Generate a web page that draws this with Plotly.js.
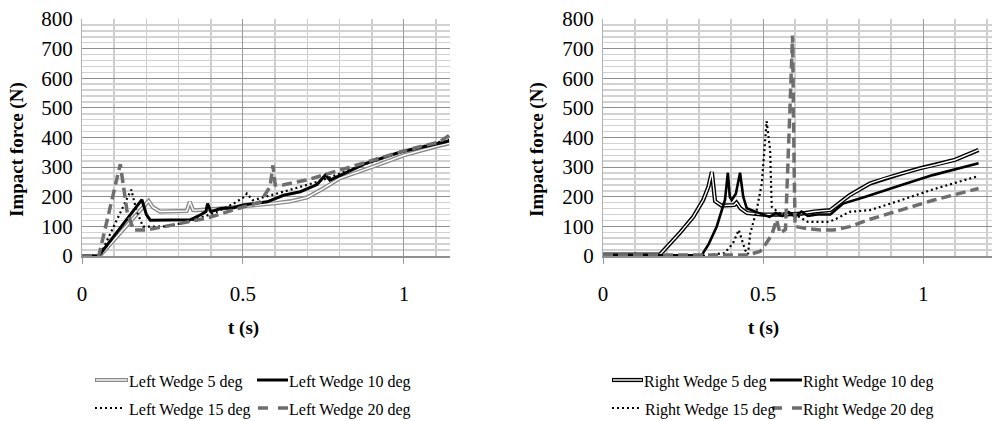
<!DOCTYPE html>
<html>
<head>
<meta charset="utf-8">
<script src="https://cdn.plot.ly/plotly-3.0.1.min.js"></script>
<style>html,body{margin:0;padding:0;background:#fff;}#chart{width:992px;height:421px;}</style>
</head>
<body>
<div id="chart"></div>
<script>
// ---------- DATA ----------
// Left wedge
const leftT5  = [0, 0.055, 0.207, 0.22, 0.242, 0.30, 0.325, 0.335, 0.345, 0.36, 0.40, 0.45, 0.50, 0.55, 0.60, 0.65, 0.70, 0.75, 0.80, 0.90, 1.00, 1.10, 1.14];
const leftF5  = [0, 0, 186, 165, 150, 150, 152, 182, 155, 155, 157, 162, 168, 172, 178, 185, 198, 228, 262, 300, 340, 370, 380];
const leftT10 = [0, 0.052, 0.186, 0.20, 0.212, 0.30, 0.336, 0.37, 0.385, 0.39, 0.40, 0.43, 0.47, 0.50, 0.575, 0.626, 0.678, 0.73, 0.756, 0.77, 0.88, 0.989, 1.14];
const leftF10 = [0, 0, 190, 140, 121, 120, 122, 140, 150, 177, 150, 160, 163, 172, 183, 205, 217, 241, 273, 256, 312, 351, 388];
const leftT15 = [0, 0.055, 0.153, 0.17, 0.19, 0.264, 0.326, 0.409, 0.471, 0.505, 0.512, 0.53, 0.626, 0.73, 0.885, 0.99, 1.14];
const leftF15 = [0, 0, 224, 150, 99, 100, 115, 144, 177, 200, 211, 188, 217, 250, 312, 351, 393];
const leftT20 = [0, 0.052, 0.119, 0.14, 0.16, 0.20, 0.283, 0.388, 0.49, 0.553, 0.584, 0.593, 0.60, 0.624, 0.70, 0.75, 0.80, 0.905, 1.01, 1.11, 1.14];
const leftF20 = [0, 0, 310, 150, 88, 88, 105, 128, 162, 182, 233, 306, 240, 240, 257, 273, 290, 324, 358, 385, 407];
// Right wedge
const rightT5  = [0, 0.178, 0.24, 0.282, 0.313, 0.329, 0.34, 0.35, 0.37, 0.41, 0.417, 0.43, 0.45, 0.50, 0.56, 0.62, 0.66, 0.71, 0.74, 0.77, 0.834, 0.88, 0.938, 0.99, 1.04, 1.10, 1.173];
const rightF5  = [5, 5, 78, 132, 189, 233, 284, 185, 170, 172, 180, 160, 145, 140, 140, 143, 150, 155, 180, 205, 245, 262, 280, 296, 308, 325, 358];
const rightT10 = [0, 0.308, 0.33, 0.355, 0.381, 0.39, 0.396, 0.402, 0.415, 0.428, 0.438, 0.449, 0.49, 0.52, 0.54, 0.56, 0.58, 0.60, 0.62, 0.64, 0.67, 0.71, 0.75, 0.82, 0.93, 1.03, 1.173];
const rightF10 = [2, 2, 40, 99, 189, 281, 200, 189, 210, 281, 200, 161, 144, 132, 145, 135, 148, 133, 150, 135, 140, 140, 177, 200, 239, 273, 313];
const rightT15 = [0, 0.31, 0.38, 0.406, 0.424, 0.444, 0.453, 0.46, 0.48, 0.496, 0.511, 0.522, 0.527, 0.55, 0.60, 0.64, 0.70, 0.72, 0.77, 0.834, 0.927, 1.031, 1.173];
const rightF15 = [0, 0, 10, 43, 88, 20, 6, 77, 155, 245, 455, 358, 166, 145, 140, 115, 115, 121, 149, 155, 187, 225, 270];
const rightT20 = [0, 0.45, 0.49, 0.50, 0.527, 0.542, 0.553, 0.57, 0.584, 0.592, 0.597, 0.60, 0.635, 0.68, 0.72, 0.77, 0.834, 0.927, 1.031, 1.173];
const rightF20 = [3, 3, 15, 27, 71, 122, 77, 90, 500, 744, 300, 100, 93, 88, 88, 99, 124, 155, 188, 228];

const leftNames  = ['Left Wedge 5 deg', 'Left Wedge 10 deg', 'Left Wedge 15 deg', 'Left Wedge 20 deg'];
const rightNames = ['Right Wedge 5 deg', 'Right Wedge 10 deg', 'Right Wedge 15 deg', 'Right Wedge 20 deg'];
const xTitle = 't (s)';
const yTitle = 'Impact force (N)';

// ---------- STYLE ----------
const SERIF = '"Liberation Serif", "Times New Roman", Times, serif';
const GRAY_LINE = '#8a8a8a';
const DASH_GRAY = '#6e6e6e';

function dbl(x, y, color, xa, ya, name) {
  return [
    {x, y, xaxis: xa, yaxis: ya, mode: 'lines', name, showlegend: false, line: {color, width: 4.2}},
    {x, y, xaxis: xa, yaxis: ya, mode: 'lines', name, showlegend: false, line: {color: '#ffffff', width: 1.4}, hoverinfo: 'skip'}
  ];
}
function solid(x, y, xa, ya, name, w) {
  return {x, y, xaxis: xa, yaxis: ya, mode: 'lines', name, showlegend: false, line: {color: '#000000', width: w}};
}
function dotted(x, y, xa, ya, name) {
  return {x, y, xaxis: xa, yaxis: ya, mode: 'lines', name, showlegend: false, line: {color: '#000000', width: 2.2, dash: '2px,3px'}};
}
function dashed(x, y, xa, ya, name) {
  return {x, y, xaxis: xa, yaxis: ya, mode: 'lines', name, showlegend: false, line: {color: DASH_GRAY, width: 3.5, dash: '10px,5px'}};
}

const data = [].concat(
  dbl(leftT5, leftF5, GRAY_LINE, 'x', 'y', leftNames[0]),
  [solid(leftT10, leftF10, 'x', 'y', leftNames[1], 3)],
  [dotted(leftT15, leftF15, 'x', 'y', leftNames[2])],
  [dashed(leftT20, leftF20, 'x', 'y', leftNames[3])],
  dbl(rightT5, rightF5, '#000000', 'x2', 'y2', rightNames[0]),
  [solid(rightT10, rightF10, 'x2', 'y2', rightNames[1], 2.6)],
  [dotted(rightT15, rightF15, 'x2', 'y2', rightNames[2])],
  [dashed(rightT20, rightF20, 'x2', 'y2', rightNames[3])]
);

const W = 992, H = 421;
const px = v => v / W;
const py = v => 1 - v / H;

function xaxisCfg(domain, range, anchor) {
  return {
    domain, range, anchor, dtick: 0.5, tick0: 0,
    showgrid: true, gridcolor: '#9a9a9a', gridwidth: 1,
    minor: {dtick: 0.1, tick0: 0, showgrid: true, gridcolor: '#cdcdcd', gridwidth: 1.5},
    zeroline: false, showline: true, linecolor: '#8e8e8e', linewidth: 2,
    ticks: 'outside', ticklen: 6, tickcolor: '#9a9a9a', tickwidth: 1,
    ticklabelstandoff: 12,
    tickfont: {family: SERIF, size: 21, color: '#000'},
    automargin: false, fixedrange: true
  };
}
function yaxisCfg(anchor) {
  return {
    domain: [py(256), py(19)], range: [0, 800], anchor, dtick: 100,
    showgrid: true, gridcolor: '#8e8e8e', gridwidth: 1,
    minor: {dtick: 20, showgrid: true, gridcolor: '#d2d2d2', gridwidth: 1.5},
    zeroline: false, showline: true, linecolor: '#b0b0b0', linewidth: 1,
    ticks: '', ticklabelstandoff: 4,
    tickfont: {family: SERIF, size: 21, color: '#000'},
    automargin: false, fixedrange: true
  };
}

// legend (drawn in paper space)
const shapes = [];
const annotations = [];
function legendEntry(kind, x0, x1, yc, textX, label, color5) {
  const y = py(yc);
  if (kind === 'dbl') {
    shapes.push({type: 'line', xref: 'paper', yref: 'paper', x0: px(x0), x1: px(x1), y0: y, y1: y, line: {color: color5, width: 4.2}});
    shapes.push({type: 'line', xref: 'paper', yref: 'paper', x0: px(x0 + 1), x1: px(x1 - 1), y0: y, y1: y, line: {color: '#fff', width: 1.4}});
  } else if (kind === 'solid') {
    shapes.push({type: 'line', xref: 'paper', yref: 'paper', x0: px(x0), x1: px(x1), y0: y, y1: y, line: {color: '#000', width: 3}});
  } else if (kind === 'dot') {
    shapes.push({type: 'line', xref: 'paper', yref: 'paper', x0: px(x0), x1: px(x1), y0: y, y1: y, line: {color: '#000', width: 2, dash: '2px,3px'}});
  } else {
    shapes.push({type: 'line', xref: 'paper', yref: 'paper', x0: px(x0), x1: px(x1), y0: y, y1: y, line: {color: DASH_GRAY, width: 3.5, dash: '10px,10px'}});
  }
  annotations.push({xref: 'paper', yref: 'paper', x: px(textX), y: py(yc + 2), xanchor: 'left', yanchor: 'middle',
    text: label, showarrow: false, font: {family: SERIF, size: 16, color: '#000'}, xshift: -1});
}
const R1 = 380, R2 = 408;
// left legend
legendEntry('dbl', 95, 128, R1, 128, leftNames[0], GRAY_LINE);
legendEntry('solid', 257, 288, R1, 288, leftNames[1]);
legendEntry('dot', 95, 123, R2, 128, leftNames[2]);
legendEntry('dash', 258, 288, R2, 288, leftNames[3]);
// right legend
legendEntry('dbl', 612, 643, R1, 643, rightNames[0], '#000');
legendEntry('solid', 770, 802, R1, 802, rightNames[1]);
legendEntry('dot', 612, 640, R2, 644, rightNames[2]);
legendEntry('dash', 772, 802, R2, 802, rightNames[3]);

// axis titles
const tfont = {family: SERIF, size: 19, color: '#000', weight: 'bold'};
annotations.push({xref: 'paper', yref: 'paper', x: px(243), y: py(328), text: '<b>' + xTitle + '</b>', showarrow: false, font: tfont, xanchor: 'center', yanchor: 'middle'});
annotations.push({xref: 'paper', yref: 'paper', x: px(763), y: py(328), text: '<b>' + xTitle + '</b>', showarrow: false, font: tfont, xanchor: 'center', yanchor: 'middle'});
annotations.push({xref: 'paper', yref: 'paper', x: px(17), y: py(150), text: '<b>' + yTitle + '</b>', showarrow: false, font: tfont, textangle: -90, xanchor: 'center', yanchor: 'middle'});
annotations.push({xref: 'paper', yref: 'paper', x: px(537), y: py(150), text: '<b>' + yTitle + '</b>', showarrow: false, font: tfont, textangle: -90, xanchor: 'center', yanchor: 'middle'});

const layout = {
  width: W, height: H,
  margin: {l: 0, r: 0, t: 0, b: 0, pad: 0},
  paper_bgcolor: '#fff', plot_bgcolor: '#fff',
  showlegend: false,
  xaxis: xaxisCfg([px(82), px(450)], [0, 1.143], 'y'),
  yaxis: yaxisCfg('x'),
  xaxis2: xaxisCfg([px(603), px(992)], [0, 1.215], 'y2'),
  yaxis2: yaxisCfg('x2'),
  shapes, annotations
};

Plotly.newPlot('chart', data, layout, {staticPlot: true, displayModeBar: false});
</script>
</body>
</html>
